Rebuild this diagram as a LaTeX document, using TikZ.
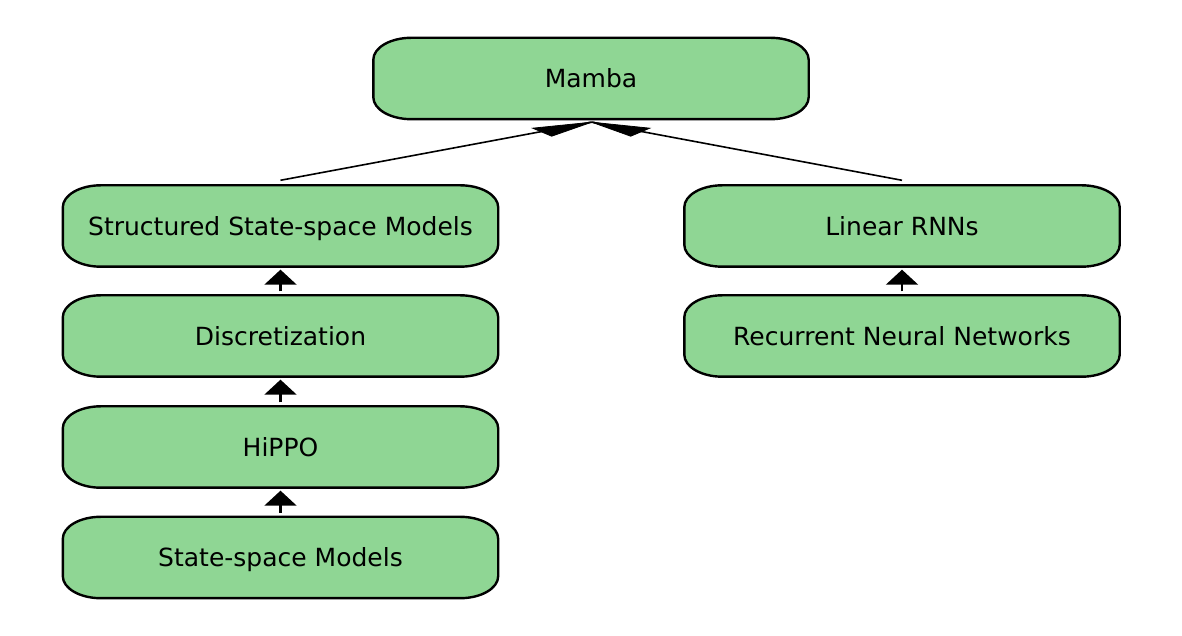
\documentclass[tikz,border=0pt]{standalone}
\usepackage{fontspec}
\setmainfont{DejaVu Sans}
\usetikzlibrary{arrows.meta,backgrounds}
\definecolor{boxgreen}{RGB}{143,214,148}
\tikzset{
  box/.style={draw=none, minimum width=435pt, minimum height=81pt, inner sep=0pt,
    text depth=0pt, font=\fontsize{25}{30}\selectfont},
  boxline/.style={draw=black, line width=2.4pt, fill=boxgreen},
  biglink/.style={line width=1.6pt},
  headfill/.style={fill=black, draw=black, line width=0.8pt, line join=miter},
  smallarrow/.style={line width=2.2pt, -{Triangle[length=15pt,width=32pt]}}
}
\begin{document}
\begin{tikzpicture}[x=1pt,y=1pt]
\useasboundingbox (0,0) rectangle (1182,636);
\node[box] (mamba) at (591,557.5) {Mamba};
\node[box] (s4) at (280.5,410) {Structured State-space Models};
\node[box] (disc) at (280.5,300) {Discretization};
\node[box] (hippo) at (280.5,189) {HiPPO};
\node[box] (ssm) at (280.5,78.5) {State-space Models};
\node[box] (lrnn) at (902,410) {Linear RNNs};
\node[box] (rnn) at (902,300) {Recurrent Neural Networks};
\begin{scope}[on background layer]
\foreach \n in {mamba,s4,disc,hippo,ssm,lrnn,rnn}{
  \draw[boxline] ([xshift=38pt]\n.north west) -- ([xshift=-38pt]\n.north east)
    arc[start angle=90,end angle=0,x radius=38pt,y radius=22pt]
    -- ([yshift=22pt]\n.south east)
    arc[start angle=0,end angle=-90,x radius=38pt,y radius=22pt]
    -- ([xshift=38pt]\n.south west)
    arc[start angle=270,end angle=180,x radius=38pt,y radius=22pt]
    -- ([yshift=-22pt]\n.north west)
    arc[start angle=180,end angle=90,x radius=38pt,y radius=22pt] -- cycle;
}
\end{scope}
\coordinate (tip) at ([xshift=0.7pt,yshift=-3pt]mamba.south);
\draw[biglink] ([yshift=5pt]s4.north) -- (tip);
\draw[biglink] ([yshift=5pt]lrnn.north) -- (tip);
\fill[headfill] (tip) -- ++(-59,-6) -- ++(19,-8) -- cycle;
\fill[headfill] (tip) -- ++(58,-6) -- ++(-19,-8) -- cycle;
\draw[smallarrow, shorten <=4pt, shorten >=3pt] (disc.north) -- (s4.south);
\draw[smallarrow, shorten <=4pt, shorten >=3pt] (hippo.north) -- (disc.south);
\draw[smallarrow, shorten <=4pt, shorten >=3pt] (ssm.north) -- (hippo.south);
\draw[smallarrow, shorten <=4pt, shorten >=3pt] (rnn.north) -- (lrnn.south);
\end{tikzpicture}
\end{document}
